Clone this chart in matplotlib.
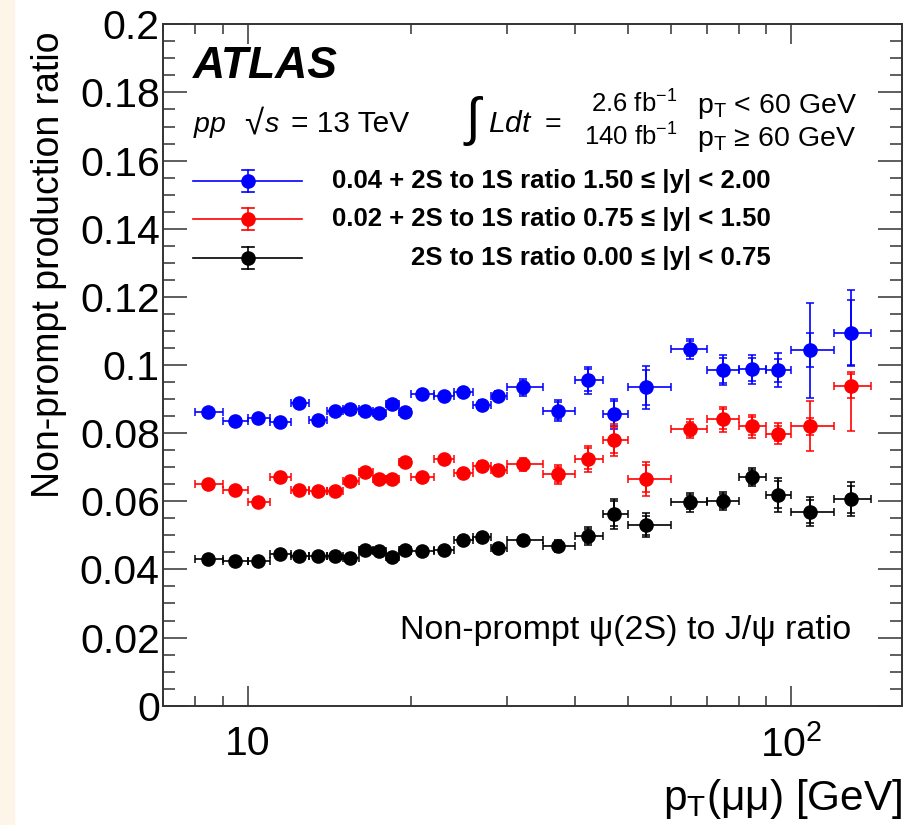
import numpy as np
import matplotlib
matplotlib.use("Agg")
import matplotlib.pyplot as plt
from matplotlib.patches import Rectangle
from matplotlib.ticker import MultipleLocator, LogLocator, NullFormatter, FuncFormatter

plt.rcParams['font.family'] = ['Liberation Sans', 'DejaVu Sans']
plt.rcParams['mathtext.fontset'] = 'custom'
plt.rcParams['mathtext.rm'] = 'Liberation Sans'
plt.rcParams['mathtext.it'] = 'Liberation Sans:italic'
plt.rcParams['mathtext.bf'] = 'Liberation Sans:bold'

# pT bins [GeV] and plotted bin positions
pt_edges = [8, 9, 10, 11, 12, 13, 14, 15, 16, 17, 18, 19, 20, 22, 24, 26, 28, 30,
            35, 40, 45, 50, 60, 70, 80, 90, 100, 120, 140]
pt = [8.45, 9.47, 10.47, 11.47, 12.45, 13.46, 14.48, 15.46, 16.45, 17.46, 18.44, 19.49,
      20.9, 22.93, 24.91, 26.99, 28.88, 32.17, 37.24, 42.28, 47.28, 54.03, 65.22, 74.74,
      84.64, 94.5, 108.4, 128.5]

# 2S to 1S ratio, 1.50 <= |y| < 2.00 (plotted with +0.04 offset)
ratio_fwd = [0.0462, 0.0437, 0.0443, 0.0433, 0.0487, 0.0440, 0.0465, 0.0472, 0.0466, 0.0460,
             0.0485, 0.0461, 0.0514, 0.0508, 0.0520, 0.0482, 0.0509, 0.0534, 0.0466, 0.0555,
             0.0457, 0.0534, 0.0647, 0.0584, 0.0587, 0.0584, 0.0643, 0.0695]
tot_fwd_lo = [0.0008, 0.0008, 0.0008, 0.0008, 0.0009, 0.0009, 0.0009, 0.0010, 0.0010, 0.0010,
              0.0011, 0.0011, 0.0012, 0.0012, 0.0013, 0.0014, 0.0016, 0.0024, 0.0030, 0.0039,
              0.0044, 0.0064, 0.0030, 0.0044, 0.0043, 0.0050, 0.0140, 0.0097]
tot_fwd_hi = [0.0008, 0.0008, 0.0008, 0.0008, 0.0009, 0.0009, 0.0009, 0.0010, 0.0010, 0.0010,
              0.0011, 0.0011, 0.0012, 0.0012, 0.0013, 0.0014, 0.0016, 0.0024, 0.0030, 0.0039,
              0.0044, 0.0064, 0.0030, 0.0044, 0.0043, 0.0050, 0.0140, 0.0126]
stat_fwd = [0.0006, 0.0006, 0.0006, 0.0006, 0.0007, 0.0007, 0.0007, 0.0008, 0.0008, 0.0008,
            0.0009, 0.0009, 0.0010, 0.0010, 0.0011, 0.0012, 0.0013, 0.0018, 0.0025, 0.0032,
            0.0036, 0.0050, 0.0022, 0.0036, 0.0034, 0.0035, 0.0050, 0.0095]

# 2S to 1S ratio, 0.75 <= |y| < 1.50 (plotted with +0.02 offset)
ratio_mid = [0.0450, 0.0432, 0.0397, 0.0470, 0.0434, 0.0430, 0.0430, 0.0460, 0.0486, 0.0465,
             0.0465, 0.0514, 0.0472, 0.0525, 0.0484, 0.0505, 0.0492, 0.0508, 0.0479, 0.0525,
             0.0580, 0.0466, 0.0613, 0.0641, 0.0620, 0.0598, 0.0620, 0.0739]
tot_mid_lo = [0.0008, 0.0008, 0.0008, 0.0008, 0.0008, 0.0008, 0.0009, 0.0009, 0.0009, 0.0010,
              0.0010, 0.0010, 0.0011, 0.0011, 0.0012, 0.0013, 0.0014, 0.0018, 0.0028, 0.0038,
              0.0047, 0.0050, 0.0028, 0.0037, 0.0034, 0.0031, 0.0073, 0.0134]
tot_mid_hi = [0.0008, 0.0008, 0.0008, 0.0008, 0.0008, 0.0008, 0.0009, 0.0009, 0.0009, 0.0010,
              0.0010, 0.0010, 0.0011, 0.0011, 0.0012, 0.0013, 0.0014, 0.0018, 0.0028, 0.0038,
              0.0047, 0.0050, 0.0028, 0.0037, 0.0034, 0.0031, 0.0073, 0.0040]
stat_mid = [0.0006, 0.0006, 0.0006, 0.0006, 0.0006, 0.0006, 0.0007, 0.0007, 0.0007, 0.0008,
            0.0008, 0.0008, 0.0009, 0.0009, 0.0010, 0.0010, 0.0011, 0.0014, 0.0022, 0.0030,
            0.0038, 0.0040, 0.0020, 0.0030, 0.0026, 0.0022, 0.0025, 0.0035]

# 2S to 1S ratio, 0.00 <= |y| < 0.75
ratio_cen = [0.0431, 0.0426, 0.0426, 0.0446, 0.0439, 0.0439, 0.0440, 0.0434, 0.0457, 0.0455,
             0.0436, 0.0458, 0.0453, 0.0457, 0.0486, 0.0494, 0.0462, 0.0485, 0.0469, 0.0498,
             0.0564, 0.0530, 0.0597, 0.0601, 0.0671, 0.0619, 0.0570, 0.0606]
tot_cen = [0.0006, 0.0006, 0.0006, 0.0006, 0.0006, 0.0006, 0.0007, 0.0007, 0.0007, 0.0007,
           0.0008, 0.0008, 0.0008, 0.0009, 0.0009, 0.0010, 0.0011, 0.0013, 0.0018, 0.0026,
           0.0044, 0.0035, 0.0027, 0.0027, 0.0027, 0.0049, 0.0042, 0.0050]
stat_cen = [0.0005, 0.0005, 0.0005, 0.0005, 0.0005, 0.0005, 0.0005, 0.0005, 0.0005, 0.0005,
            0.0006, 0.0006, 0.0006, 0.0007, 0.0007, 0.0008, 0.0008, 0.0010, 0.0014, 0.0020,
            0.0036, 0.0028, 0.0020, 0.0020, 0.0020, 0.0040, 0.0035, 0.0040]

series = [
    ("#0000ff", 0.04, ratio_fwd, tot_fwd_lo, tot_fwd_hi, stat_fwd,
     "0.04 + 2S to 1S ratio 1.50", "\u2264 |y| < 2.00"),
    ("#ff0000", 0.02, ratio_mid, tot_mid_lo, tot_mid_hi, stat_mid,
     "0.02 + 2S to 1S ratio 0.75", "\u2264 |y| < 1.50"),
    ("#000000", 0.00, ratio_cen, tot_cen, tot_cen, stat_cen,
     "2S to 1S ratio 0.00", "\u2264 |y| < 0.75"),
]

W, H = 905, 825
fig = plt.figure(figsize=(W / 100, H / 100), dpi=100)
fig.patches.append(Rectangle((0, 0), 14 / W, 1, transform=fig.transFigure,
                             color="#fdf5e8", zorder=-5))
ax = fig.add_axes([163.3 / W, 1 - 705.7 / H, 739 / W, 681.4 / H])

x = np.array(pt)
edges = np.array(pt_edges)
xerr = [x - edges[:-1], edges[1:] - x]

for color, off, vals, lo, hi, stat, lab1, lab2 in series:
    y = np.array(vals) + off
    ax.errorbar(x, y, xerr=xerr, yerr=[lo, hi], fmt="none", ecolor=color,
                elinewidth=1.2, capsize=2.8, capthick=1.1, zorder=2)
    ax.errorbar(x, y, yerr=stat, fmt="none", ecolor=color,
                elinewidth=1.2, capsize=2.8, capthick=1.1, zorder=2)
    ax.plot(x, y, "o", color=color, markersize=9.5, zorder=3)

ax.set_xscale("log")
ax.set_xlim(7.0, 160)
ax.set_ylim(0, 0.2)

ax.set_xticks([10, 100])
ax.set_xticklabels(["10", r"$10^{2}$"])
ax.xaxis.set_minor_locator(LogLocator(base=10, subs=np.arange(2, 10)))
ax.xaxis.set_minor_formatter(NullFormatter())
ax.yaxis.set_major_locator(MultipleLocator(0.02))
ax.yaxis.set_minor_locator(MultipleLocator(0.005))
ax.yaxis.set_major_formatter(FuncFormatter(lambda v, p: "%g" % round(v, 4)))

ax.tick_params(which="both", direction="in", top=True, right=True, color="#333333", width=1.1)
ax.tick_params(axis="y", which="major", length=17, labelsize=29.5, pad=2.5)
ax.tick_params(axis="y", which="minor", length=8.6)
ax.tick_params(axis="x", which="major", length=14.4, labelsize=29.5, pad=14)
ax.tick_params(axis="x", which="minor", length=7.2)
for sp in ax.spines.values():
    sp.set_linewidth(1.4)
    sp.set_color("#333333")

ax.set_xlabel(r"p$_{\mathrm{T}}$(" + "\u03bc\u03bc" + ") [GeV]", fontsize=30.5, loc="right")
ax.xaxis.set_label_coords(1.0, -0.105)
ax.set_ylabel("Non-prompt production ratio", fontsize=27, loc="top")
ax.yaxis.set_label_coords(-0.13, 0.99)


def fx(px):
    return (px - 163.3) / 739


def fy(py):
    return (705.7 - py) / 681.4


def label(px, py, s, **kw):
    kw.setdefault("va", "baseline")
    ax.text(fx(px), fy(py), s, transform=ax.transAxes, **kw)


label(193, 78, "ATLAS", fontsize=32, fontweight="bold", fontstyle="italic")
label(193, 132, "$pp$", fontsize=20.5)
label(244, 133, "\u221a", fontsize=25)
label(264, 132, "$s$", fontsize=20.5)
label(291, 132, "= 13 TeV", fontsize=21.5)
label(465, 121, "\u222b", fontsize=38, va="center")
label(488, 132, "$Ldt$", fontsize=21.5)
label(545, 132, "=", fontsize=20.5)
label(677, 113, r"2.6 fb$^{-1}$", fontsize=18.5, ha="right")
label(677, 146, r"140 fb$^{-1}$", fontsize=18.5, ha="right")
label(697, 113, r"p$_{\mathrm{T}}$ < 60 GeV", fontsize=20.5)
label(697, 146, r"p$_{\mathrm{T}}$ " + "\u2265 60 GeV", fontsize=20.5)

# legend drawn by hand, ROOT style
for row, (color, off, vals, lo, hi, stat, lab1, lab2) in zip([181, 219, 258], series):
    yc = fy(row)
    ax.plot([fx(193), fx(302)], [yc, yc], color=color, lw=1.2, transform=ax.transAxes,
            clip_on=False)
    ax.plot([fx(248), fx(248)], [fy(row - 11), fy(row + 11)], color=color, lw=1.2,
            transform=ax.transAxes)
    for cy in (row - 11, row + 11):
        ax.plot([fx(242), fx(254)], [fy(cy), fy(cy)], color=color, lw=1.2,
                transform=ax.transAxes)
    ax.plot([fx(248)], [yc], "o", color=color, markersize=9.5, transform=ax.transAxes)
    label(633, row, lab1, fontsize=18.5, fontweight="bold", ha="right", va="center")
    label(641, row, lab2, fontsize=18.5, fontweight="bold", ha="left", va="center")

label(851, 630, "Non-prompt \u03c8(2S) to J/\u03c8 ratio", fontsize=24.5, ha="right",
      va="center")

fig.savefig("out.png", dpi=100)
